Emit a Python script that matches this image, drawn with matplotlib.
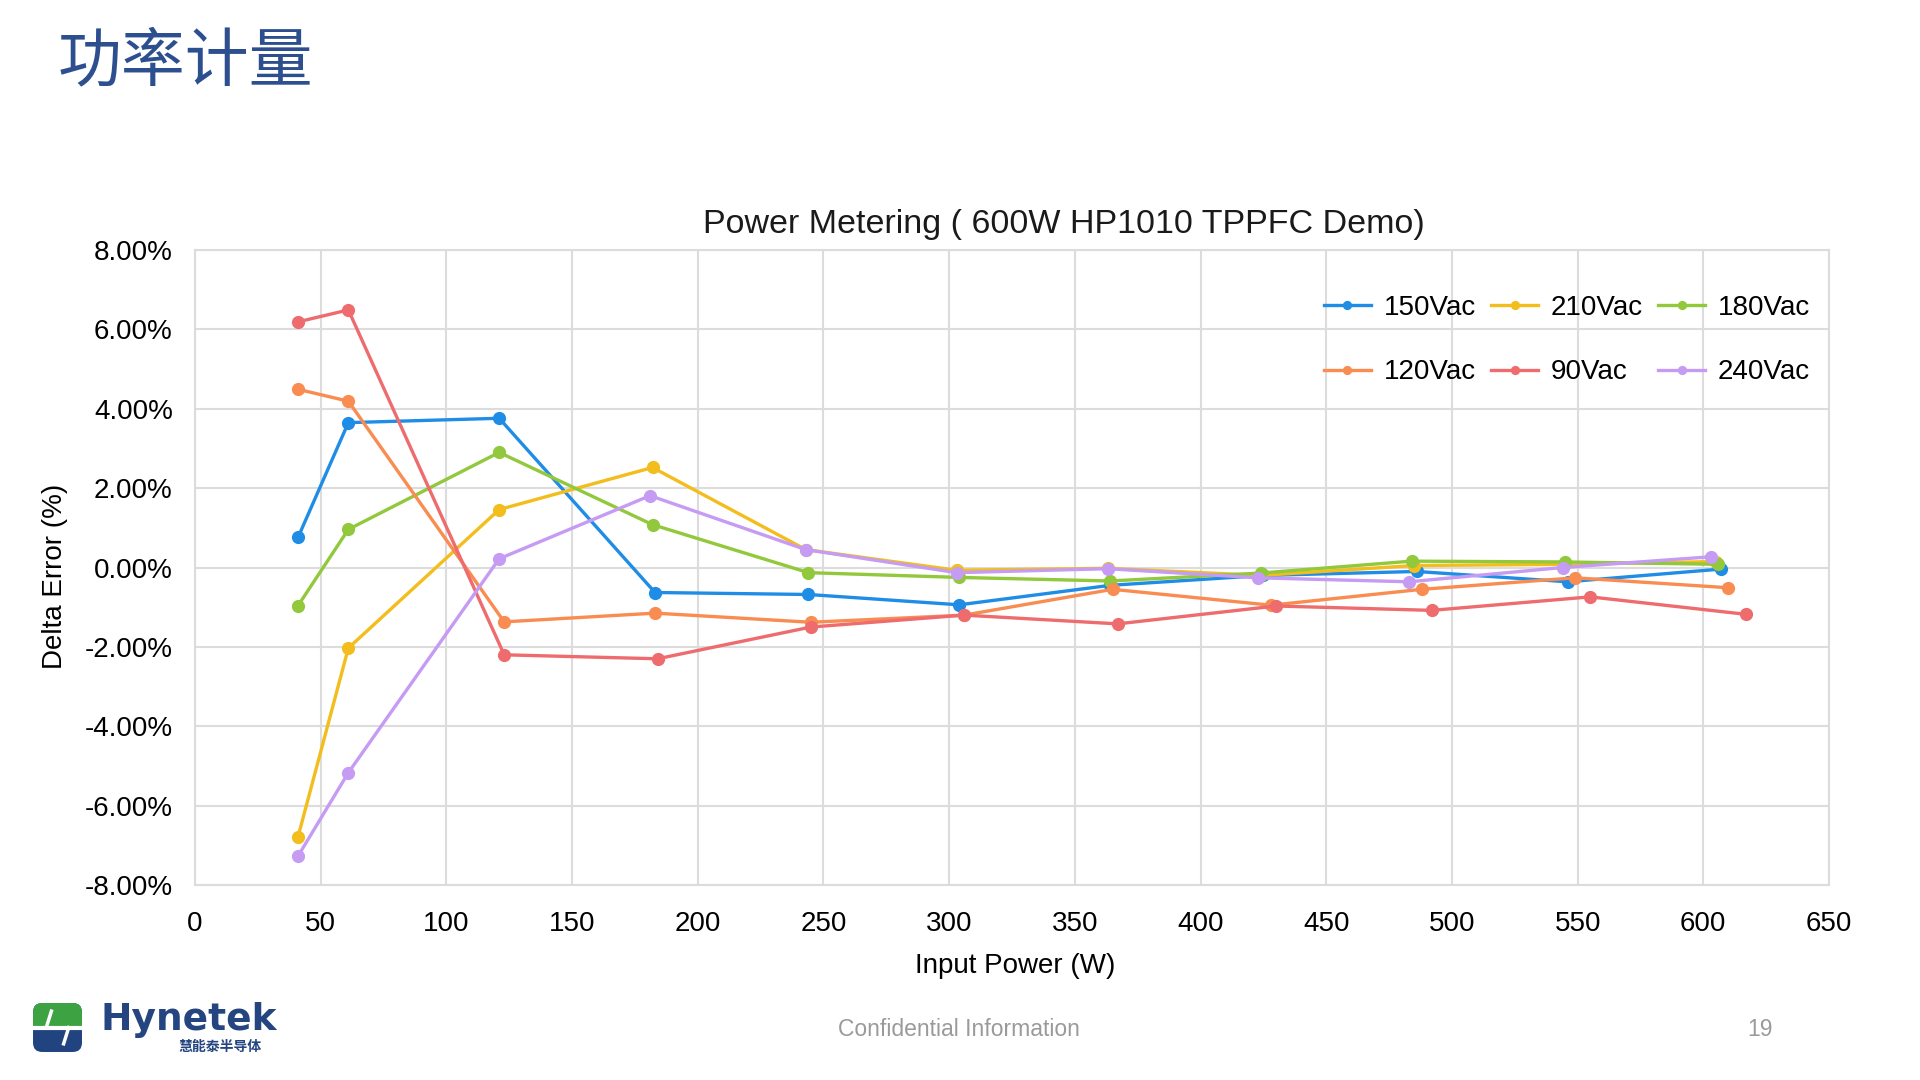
import matplotlib
matplotlib.use("Agg")
import matplotlib.pyplot as plt
from matplotlib.patches import FancyBboxPatch, Polygon
from matplotlib.ticker import FuncFormatter

plt.rcParams['font.family'] = ['Liberation Sans', 'DejaVu Sans']

# ---------------- data ----------------
page_title = "功率计量"
chart_title = "Power Metering ( 600W HP1010 TPPFC Demo)"
x_label = "Input Power (W)"
y_label = "Delta Error (%)"

x150 = [41, 61, 121, 183, 244, 304, 364, 425, 486, 546, 607]
y150 = [0.76, 3.65, 3.76, -0.63, -0.68, -0.94, -0.45, -0.20, -0.10, -0.36, -0.04]

x210 = [41, 61, 121, 182, 243, 303, 363, 424, 485, 545, 605]
y210 = [-6.78, -2.03, 1.46, 2.52, 0.45, -0.07, -0.02, -0.20, 0.05, 0.08, 0.15]

x180 = [41, 61, 121, 182, 244, 304, 364, 424, 484, 545, 606]
y180 = [-0.96, 0.96, 2.90, 1.08, -0.13, -0.25, -0.34, -0.14, 0.16, 0.14, 0.08]

x120 = [41, 61, 123, 183, 245, 306, 365, 428, 488, 549, 610]
y120 = [4.49, 4.19, -1.37, -1.15, -1.38, -1.20, -0.55, -0.95, -0.55, -0.26, -0.51]

x90 = [41, 61, 123, 184, 245, 306, 367, 430, 492, 555, 617]
y90 = [6.19, 6.49, -2.20, -2.30, -1.50, -1.20, -1.42, -0.97, -1.08, -0.74, -1.18]

x240 = [41, 61, 121, 181, 243, 303, 363, 423, 483, 544, 603]
y240 = [-7.27, -5.17, 0.22, 1.81, 0.45, -0.13, -0.03, -0.26, -0.36, 0.00, 0.27]

series_names = ["150Vac", "210Vac", "180Vac", "120Vac", "90Vac", "240Vac"]
series_x = [x150, x210, x180, x120, x90, x240]
series_y = [y150, y210, y180, y120, y90, y240]
series_colors = ["#1F8DE6", "#F2BD1D", "#91C83C", "#F98C50", "#EE6B6E", "#C59BF3"]

x_ticks = list(range(0, 651, 50))
y_ticks = list(range(-8, 9, 2))

footer_text = "Confidential Information"
page_number = "19"
logo_name = "Hynetek"
logo_cn = "慧能泰半导体"

# ---------------- figure ----------------
W, H = 1920, 1080
fig = plt.figure(figsize=(19.2, 10.8), dpi=100)
fig.patch.set_facecolor("white")

def fx(px):
    return px / W

def fy(py):
    return 1 - py / H

ax = fig.add_axes([fx(195), fy(885), fx(1829) - fx(195), fy(250) - fy(885)])

lines = {}
for name, xs, ys, c in zip(series_names, series_x, series_y, series_colors):
    ln, = ax.plot(xs, ys, color=c, lw=2.4, marker="o", markersize=9.5,
                  markeredgewidth=0, label=name, solid_joinstyle="round")
    lines[name] = ln

ax.set_xlim(0, 650)
ax.set_ylim(-8, 8)
ax.set_xticks(x_ticks)
ax.set_yticks(y_ticks)
ax.yaxis.set_major_formatter(FuncFormatter(lambda v, p: f"{v:.2f}%"))
ax.grid(True, color="#DCDCDC", lw=1.5)
ax.set_axisbelow(True)
for s in ax.spines.values():
    s.set_color("#DCDCDC")
    s.set_linewidth(1.5)
ax.tick_params(length=0, labelsize=20, colors="#000000")
ax.tick_params(axis="y", pad=16)
ax.tick_params(axis="x", pad=19)

# legend (column-major fill)
order = ["150Vac", "120Vac", "210Vac", "90Vac", "180Vac", "240Vac"]
leg = ax.legend([lines[n] for n in order], order, ncol=3, frameon=False,
                loc="upper right", bbox_to_anchor=(fx(1824), fy(281)),
                bbox_transform=fig.transFigure, fontsize=20,
                handlelength=1.7, handletextpad=0.45, columnspacing=0.55,
                labelspacing=1.38, markerscale=0.7, borderpad=0)

# titles and labels
fig.text(fx(1064), fy(224), chart_title, ha="center", va="center",
         fontsize=24.5, color="#1a1a1a")
fig.text(fx(1015), fy(966), x_label, ha="center", va="center", fontsize=20)
fig.text(fx(55), fy(576), y_label, ha="center", va="center", fontsize=20,
         rotation=90)

fig.text(fx(58), fy(62), page_title, ha="left", va="center", fontsize=46,
         color="#2E4F8F", family=["Noto Sans CJK SC", "DejaVu Sans"])

fig.text(fx(959), fy(1030), footer_text, ha="center", va="center",
         fontsize=16.5, color="#9A9A9A")
fig.text(fx(1760), fy(1030), page_number, ha="center", va="center",
         fontsize=16.5, color="#9A9A9A")

# logo
lax = fig.add_axes([fx(32), fy(1053), fx(83) - fx(32), fy(1002) - fy(1053)])
lax.set_xlim(0, 1)
lax.set_ylim(0, 1)
lax.axis("off")
lax.add_patch(FancyBboxPatch((0.02, 0.02), 0.96, 0.96,
                             boxstyle="round,pad=0,rounding_size=0.18",
                             facecolor="#21437F", edgecolor="none"))
lax.add_patch(FancyBboxPatch((0.02, 0.52), 0.96, 0.46,
                             boxstyle="round,pad=0,rounding_size=0.18",
                             facecolor="#3DA342", edgecolor="none"))
lax.add_patch(Polygon([[0.02, 0.52], [0.98, 0.52], [0.98, 0.7], [0.02, 0.7]],
                      closed=True, facecolor="#3DA342", edgecolor="none"))
lax.plot([0.0, 1.0], [0.50, 0.50], color="white", lw=3)
lax.plot([0.28, 0.38], [0.5, 0.82], color="white", lw=2.5)
lax.plot([0.62, 0.72], [0.18, 0.5], color="white", lw=2.5)

fig.text(fx(100), fy(1020), logo_name, ha="left", va="center", fontsize=27,
         fontweight="bold", color="#24457F", family=["DejaVu Sans"])
fig.text(fx(178), fy(1047), logo_cn, ha="left", va="center", fontsize=10,
         fontweight="bold", color="#24457F",
         family=["Noto Sans CJK SC", "DejaVu Sans"])

fig.savefig("out.png", dpi=100, facecolor="white")
